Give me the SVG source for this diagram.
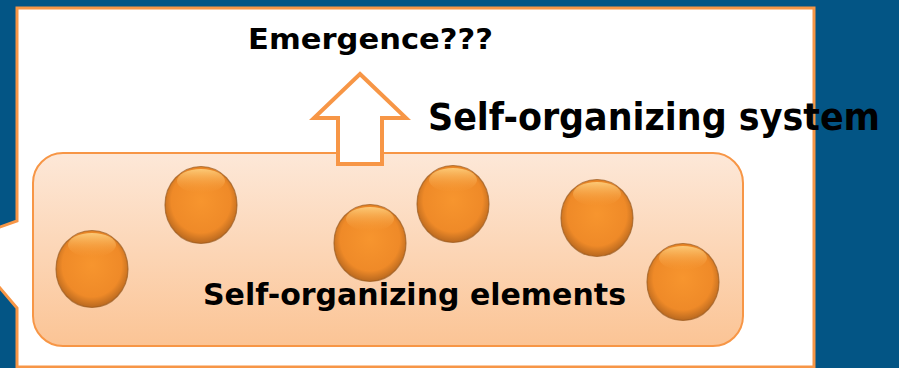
<svg xmlns="http://www.w3.org/2000/svg" width="899" height="368" viewBox="0 0 899 368">
<style>
.t{font-family:"DejaVu Sans","Liberation Sans",sans-serif;font-weight:bold;fill:#000}
.ball{fill:url(#bg)}
.ballrim{fill:none;stroke:#9a5a1e;stroke-width:1.2;stroke-opacity:0.7}
.hl{fill:url(#hg)}
</style>
<defs>
<linearGradient id="pg" x1="0" y1="0" x2="0" y2="1">
<stop offset="0" stop-color="#FDE8D8"/>
<stop offset="1" stop-color="#FBC495"/>
</linearGradient>
<radialGradient id="bg" cx="0.5" cy="0.45" r="0.55">
<stop offset="0" stop-color="#F7952E"/>
<stop offset="0.75" stop-color="#EF8A28"/>
<stop offset="1" stop-color="#B8681F"/>
</radialGradient>
<linearGradient id="hg" x1="0" y1="0" x2="0" y2="1">
<stop offset="0" stop-color="#FFD98A" stop-opacity="0.8"/>
<stop offset="1" stop-color="#F8A040" stop-opacity="0"/>
</linearGradient>
<g id="b">
<ellipse class="ball" cx="0" cy="0" rx="36" ry="38.5"/>
<ellipse class="hl" cx="0" cy="-24" rx="24" ry="12"/>
<ellipse class="ballrim" cx="0" cy="0" rx="36" ry="38.5"/>
</g>
</defs>
<rect width="899" height="368" fill="#035585"/>
<g id="callout">
<path d="M17,8 H814 V367 H17 V308 L-40,241 L17,221 Z" fill="#fff" stroke="#F79646" stroke-width="3"/>
</g>
<g id="elements">
<rect x="33" y="153" width="710" height="193" rx="30" fill="url(#pg)" stroke="#F79646" stroke-width="2"/>
<use href="#b" x="92" y="269"/>
<use href="#b" x="201" y="205"/>
<use href="#b" x="370" y="243"/>
<use href="#b" x="453" y="204"/>
<use href="#b" x="597" y="218"/>
<use href="#b" x="683" y="282"/>
<text class="t" x="203" y="305" font-size="31" textLength="423" lengthAdjust="spacingAndGlyphs">Self-organizing elements</text>
</g>
<g id="connectors">
<path d="M360,74 L406,118 L382,118 L382,164 L338,164 L338,118 L314,118 Z" fill="#fff" stroke="#F79646" stroke-width="4" stroke-linejoin="miter"/>
</g>
<g id="emergence">
<text class="t" x="248" y="49" font-size="29" textLength="245" lengthAdjust="spacingAndGlyphs">Emergence???</text>
</g>
<g id="system">
<text class="t" x="428" y="130" font-size="37" textLength="452" lengthAdjust="spacingAndGlyphs">Self-organizing system</text>
</g>
</svg>
